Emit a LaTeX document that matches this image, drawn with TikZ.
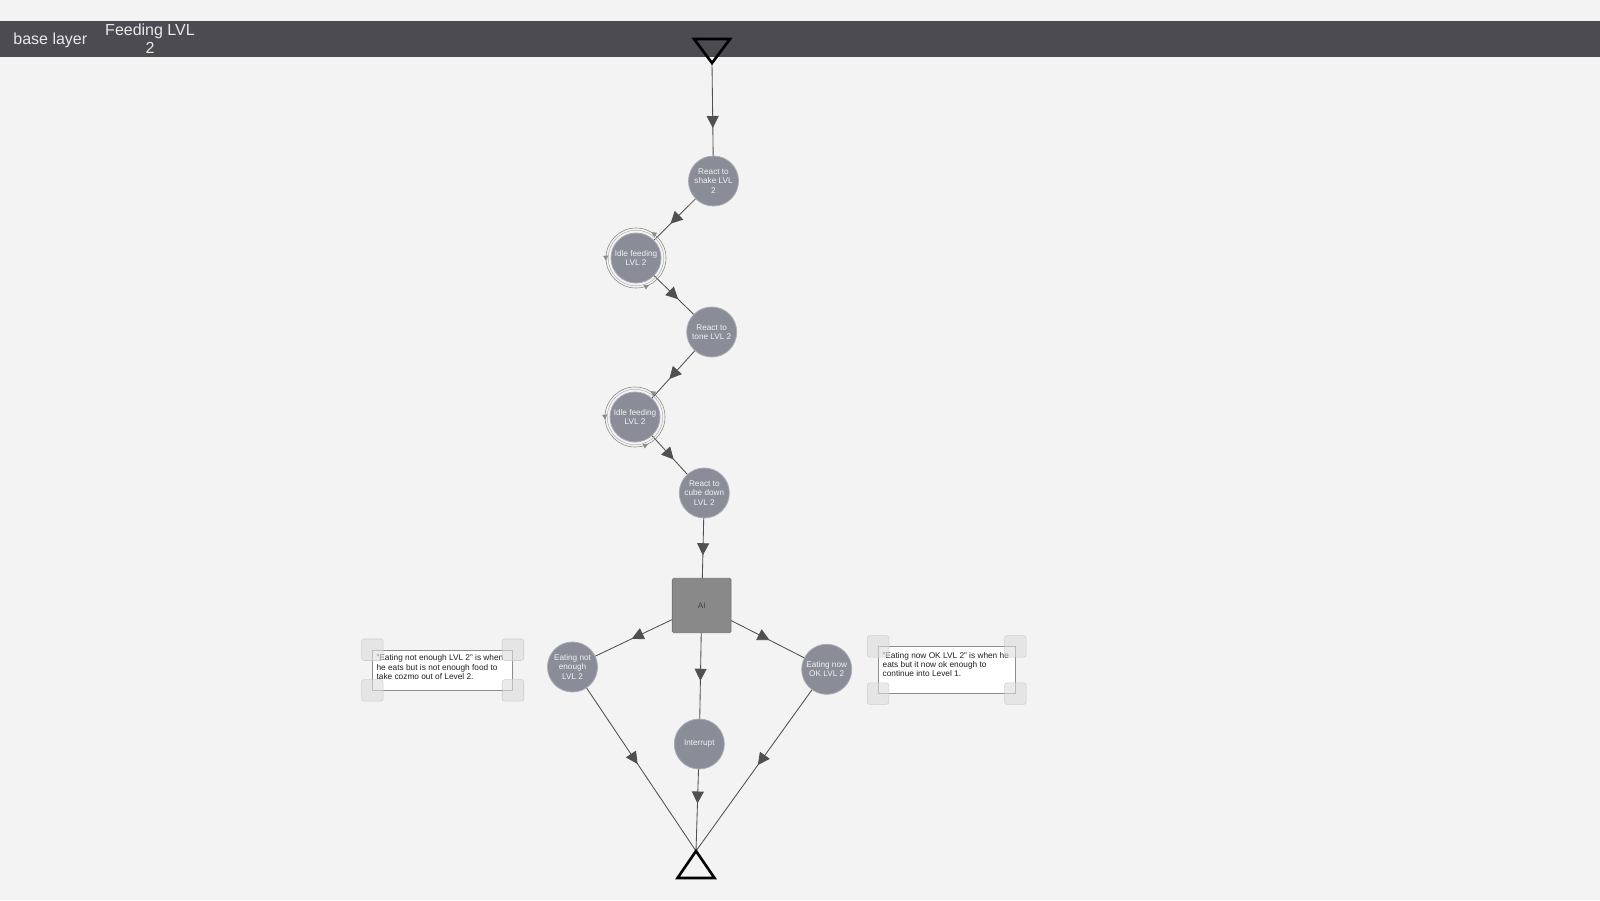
\documentclass[tikz,border=0pt]{standalone}
\usepackage{fontspec}
\setmainfont{Liberation Sans}
\usetikzlibrary{arrows.meta,decorations.markings,calc}
\pgfdeclarelayer{background}
\pgfsetlayers{background,main}
\definecolor{bg}{HTML}{F3F3F3}
\definecolor{bar}{HTML}{4B4B51}
\definecolor{hdrtext}{HTML}{E8E8E8}
\definecolor{nodefill}{HTML}{8A8D98}
\definecolor{nodeedge}{HTML}{A9ABB3}
\definecolor{edgecol}{HTML}{505050}
\definecolor{aifill}{HTML}{898989}
\definecolor{aiedge}{HTML}{777777}
\definecolor{handlefill}{HTML}{DCDCDC}
\definecolor{handleedge}{HTML}{C8C8C8}
\definecolor{ringout}{HTML}{8C8C8C}
\definecolor{ringin}{HTML}{B4B4B4}
\tikzset{
  hdr/.style={font=\fontsize{16}{18}\selectfont, text=hdrtext, inner sep=0pt},
  state/.style={circle, fill=nodefill, draw=nodeedge, line width=0.8pt,
    minimum size=50pt, inner sep=0pt, align=center, text=white!95!black,
    font=\fontsize{8.2}{9.2}\selectfont},
  aibox/.style={rectangle, rounded corners=1.5pt, fill=aifill, draw=aiedge,
    line width=0.8pt, minimum width=58.7pt, minimum height=54.4pt,
    font=\fontsize{8}{9}\selectfont, text=black!75},
  conn/.style={draw=edgecol, line width=0.85pt, postaction={decorate},
    decoration={markings, mark=at position 0.5 with
      {\arrow[edgecol, xshift=6pt]{Triangle[length=12pt,width=12pt]}}}},
  tri/.style={draw=black, line width=2.6pt, line join=miter},
  ring/.style={draw=ringout, line width=0.6pt, postaction={decorate},
    decoration={markings,
      mark=at position 0.164 with {\arrow[ringout]{Triangle[length=5pt,width=5pt]}},
      mark=at position 0.514 with {\arrow[ringout]{Triangle[length=5pt,width=5pt]}},
      mark=at position 0.822 with {\arrow[ringout]{Triangle[length=5pt,width=5pt]}}}},
  ringinner/.style={draw=ringin, line width=0.5pt},
  note/.style={rectangle, fill=white, draw=black!45, line width=0.6pt, inner sep=0pt},
  notetext/.style={inner sep=0pt, align=left, text=black!88,
    font=\fontsize{8.3}{9.2}\selectfont},
  handle/.style={rectangle, rounded corners=2.5pt, minimum size=21.5pt, inner sep=0pt,
    fill=handlefill, draw=handleedge, line width=0.6pt, fill opacity=0.6, draw opacity=0.8}
}
\begin{document}
\begin{tikzpicture}[x=1pt,y=-1pt]
\useasboundingbox (0,0) rectangle (1600,900);
\begin{pgfonlayer}{background}
\fill[bg] (0,0) rectangle (1600,900);
\fill[bar] (0,21) rectangle (1600,57);
\end{pgfonlayer}
\node[hdr, anchor=base] (baselayer) at (50.3,44.5) {base layer};
\node[hdr, align=center] (feeding) at (150,39) {Feeding LVL\\2};

% start and end markers
\coordinate (topT) at (712,63);
\draw[tri] (694,39) -- (730,39) -- (topT) -- cycle;
\coordinate (botT) at (696,851);
\draw[tri] (botT) -- (714.5,878) -- (677.5,878) -- cycle;

% states
\node[state] (shake) at (713.5,181) {React to\\shake LVL\\2};
\node[state] (idle1) at (636,258) {Idle feeding\\LVL 2};
\node[state] (tone) at (711.7,332) {React to\\tone LVL 2};
\node[state] (idle2) at (635,417) {Idle feeding\\LVL 2};
\node[state] (cube) at (704.3,493) {React to\\cube down\\LVL 2};
\node[aibox] (ai) at (701.7,605.5) {AI};
\node[state] (eatno) at (572.5,667) {Eating not\\enough\\LVL 2};
\node[state] (eatok) at (826.7,669.3) {Eating now\\OK LVL 2};
\node[state] (intr) at (699.3,744) {Interrupt};

% idle rings
\draw[ringinner] (idle1.center) circle (27.8pt);
\draw[ring] (idle1.center) circle (30pt);
\draw[ringinner] (idle2.center) circle (27.8pt);
\draw[ring] (idle2.center) circle (30pt);

% connectors
\begin{pgfonlayer}{background}
\draw[conn] (topT) -- (shake.center);
\draw[conn] (shake.center) -- (idle1.center);
\draw[conn] (idle1.center) -- (tone.center);
\draw[conn] (tone.center) -- (idle2.center);
\draw[conn] (idle2.center) -- (cube.center);
\draw[conn] (cube.center) -- (ai.center);
\draw[conn] (ai.center) -- (eatno.center);
\draw[conn] (ai.center) -- (eatok.center);
\draw[conn] (ai.center) -- (intr.center);
\draw[conn] (eatno.center) -- (botT);
\draw[conn] (eatok.center) -- (botT);
\draw[conn] (intr.center) -- (botT);
\end{pgfonlayer}

% notes
\node[note, minimum width=140pt, minimum height=40pt] (noteL) at (442.7,670) {};
\node[notetext, anchor=north west] (noteLtext) at ($(noteL.north west)+(4,5)$)
  {"Eating not enough LVL 2" is when\\he eats but is not enough food to\\take cozmo out of Level 2.};
\node[handle] (hL1) at (noteL.north west) {};
\node[handle] (hL2) at (noteL.north east) {};
\node[handle] (hL3) at (noteL.south west) {};
\node[handle] (hL4) at (noteL.south east) {};

\node[note, minimum width=136.7pt, minimum height=46.7pt] (noteR) at (946.7,670) {};
\node[notetext, anchor=north west] (noteRtext) at ($(noteR.north west)+(4.4,6)$)
  {"Eating now OK LVL 2" is when he\\eats but it now ok enough to\\continue into Level 1.};
\node[handle] (hR1) at (noteR.north west) {};
\node[handle] (hR2) at (noteR.north east) {};
\node[handle] (hR3) at (noteR.south west) {};
\node[handle] (hR4) at (noteR.south east) {};
\end{tikzpicture}
\end{document}
